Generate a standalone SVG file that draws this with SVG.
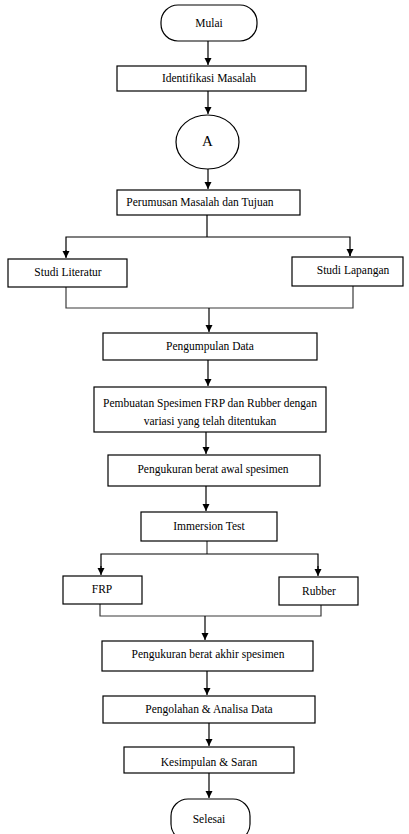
<svg xmlns="http://www.w3.org/2000/svg" width="409" height="834" viewBox="0 0 409 834">
<defs>
<marker id="ah" markerWidth="8" markerHeight="8" refX="7" refY="4" orient="auto" markerUnits="userSpaceOnUse">
<path d="M0,0.5 L7,4 L0,7.5 Z" fill="#000"/>
</marker>
</defs>
<style>
.box{fill:#fff;stroke:#000;stroke-width:1.2}
text{font-family:'Liberation Serif','Times New Roman',Times,serif;font-size:11.5px;fill:#000;text-anchor:middle;dominant-baseline:middle}
.c{fill:none;stroke:#000;stroke-width:1.2}
.a{fill:none;stroke:#000;stroke-width:1.2;marker-end:url(#ah)}
.m{fill:none;stroke:#3a3a3a;stroke-width:1.2}
</style>
<rect width="409" height="834" fill="#fff"/>
<g id="connectors">
<line class="a" x1="208" y1="41" x2="208" y2="65"/>
<line class="a" x1="208" y1="91" x2="208" y2="114"/>
<line class="a" x1="208" y1="169" x2="208" y2="189"/>
<line class="c" x1="207" y1="215" x2="207" y2="237"/>
<polyline class="c" points="66,257 66,237 350,237 350,256"/>
<line class="a" x1="66" y1="250" x2="66" y2="258"/>
<line class="a" x1="350" y1="249" x2="350" y2="256"/>
<polyline class="m" points="66,287 66,308 353,308 353,286"/>
<line class="a" x1="209" y1="308" x2="209" y2="332"/>
<line class="a" x1="208" y1="360" x2="208" y2="386"/>
<line class="a" x1="206" y1="432" x2="206" y2="454"/>
<line class="a" x1="206" y1="486" x2="206" y2="511"/>
<polyline class="m" points="207,541 207,554"/>
<polyline class="c" points="101,570 101,554 318,554 318,570"/>
<line class="a" x1="101" y1="566" x2="101" y2="575"/>
<line class="a" x1="318" y1="566" x2="318" y2="576"/>
<polyline class="m" points="100,604 100,616 321,616 321,605"/>
<line class="a" x1="205" y1="616" x2="205" y2="640"/>
<line class="a" x1="207" y1="671" x2="207" y2="695"/>
<line class="a" x1="209" y1="723" x2="209" y2="746"/>
<line class="a" x1="209" y1="773" x2="209" y2="798"/>
</g>
<g id="mulai"><rect class="box" x="161" y="5" width="96" height="36" rx="17"/><text x="209" y="24" font-family="Liberation Serif, serif">Mulai</text></g>
<g id="identifikasi"><rect class="box" x="117" y="66" width="189" height="25"/><text x="209" y="79">Identifikasi Masalah</text></g>
<g id="a"><ellipse class="box" cx="207.5" cy="142" rx="31.5" ry="27"/><text x="207.5" y="143" style="font-size:15px">A</text></g>
<g id="perumusan"><rect class="box" x="117" y="190" width="183" height="25"/><text x="200" y="203">Perumusan Masalah dan Tujuan</text></g>
<g id="literatur"><rect class="box" x="8" y="259" width="119" height="28"/><text x="68" y="273">Studi Literatur</text></g>
<g id="lapangan"><rect class="box" x="292" y="257" width="111" height="29"/><text x="353" y="271">Studi Lapangan</text></g>
<g id="pengumpulan"><rect class="box" x="103" y="333" width="214" height="27"/><text x="210" y="347">Pengumpulan Data</text></g>
<g id="pembuatan"><rect class="box" x="94" y="387" width="232" height="45"/><text x="210" y="404">Pembuatan Spesimen FRP dan Rubber dengan</text><text x="210" y="422">variasi yang telah ditentukan</text></g>
<g id="awal"><rect class="box" x="108" y="455" width="212" height="31"/><text x="213" y="470">Pengukuran berat awal spesimen</text></g>
<g id="immersion"><rect class="box" x="141" y="512" width="136" height="29"/><text x="209" y="527">Immersion Test</text></g>
<g id="frp"><rect class="box" x="63" y="576" width="79" height="28"/><text x="102" y="590">FRP</text></g>
<g id="rubber"><rect class="box" x="279" y="577" width="79" height="28"/><text x="319" y="592">Rubber</text></g>
<g id="akhir"><rect class="box" x="102" y="641" width="211" height="30"/><text x="208" y="655">Pengukuran berat akhir spesimen</text></g>
<g id="pengolahan"><rect class="box" x="103" y="696" width="212" height="27"/><text x="209" y="710">Pengolahan &amp; Analisa Data</text></g>
<g id="kesimpulan"><rect class="box" x="124" y="747" width="170" height="26"/><text x="209" y="763">Kesimpulan &amp; Saran</text></g>
<g id="selesai"><rect class="box" x="171" y="799" width="79" height="42" rx="17"/><text x="209" y="820">Selesai</text></g>
</svg>
